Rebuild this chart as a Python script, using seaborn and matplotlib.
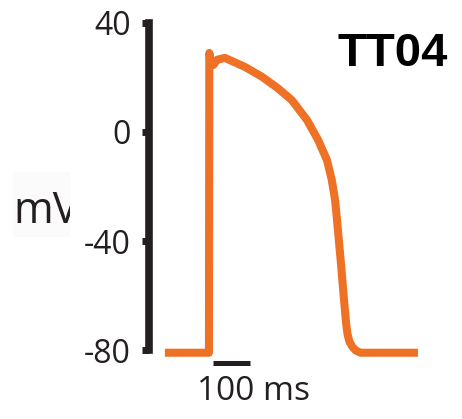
import matplotlib
matplotlib.use("Agg")
import matplotlib.pyplot as plt
import seaborn as sns
import pandas as pd
from matplotlib.patches import Rectangle

# Action potential trace (time in ms relative to upstroke, voltage in mV)
time_ms = [-119, 0, 1, 5, 12, 22, 43, 97, 143, 186, 224, 265, 295, 319, 332,
           341, 346, 351, 356, 361, 366, 371, 375, 380, 388, 397, 410, 565]
voltage_mv = [-81, -81, 29, 26, 24.6, 26.5, 27.2, 23.9, 20.3, 16.1, 11.7, 4.4,
              -2.9, -10.3, -17.6, -25.0, -32.0, -39.5, -47.0, -55.0, -63.0,
              -70.5, -74.5, -77.0, -78.9, -80.2, -81, -81]
ytick_values = [40, 0, -40, -80]
ytick_labels = ["40", "0", "-40", "-80"]
title_text = "TT04"
ylabel_text = "mV"
scalebar_ms = 100
scalebar_label = "100 ms"

sns.set_style("white")
fig = plt.figure(figsize=(4.62, 4.19), dpi=100)
ax = fig.add_axes([149 / 462, (419 - 350) / 419, 1 - 149 / 462, (350 - 23) / 419])

df = pd.DataFrame({"t": time_ms, "v": voltage_mv})
sns.lineplot(data=df, x="t", y="v", ax=ax, color="#EE7125", linewidth=5.8,
             estimator=None, sort=False)
for ln in ax.lines:
    ln.set_clip_on(False)
    ln.set_solid_capstyle("butt")
    ln.set_solid_joinstyle("round")

ax.set_xlim(-162, 684)
ax.set_ylim(-80, 40)
ax.set_xlabel("")
ax.set_ylabel("")
ax.set_xticks([])
ax.set_yticks(ytick_values)
ax.set_yticklabels(ytick_labels, fontfamily="Open Sans", fontsize=23, color="#231f20")
ax.tick_params(axis="y", direction="out", length=5, width=5, color="#231f20", pad=8, left=True)
for s in ["top", "right", "bottom"]:
    ax.spines[s].set_visible(False)
ax.spines["left"].set_linewidth(5.5)
ax.spines["left"].set_color("#231f20")
ax.spines["left"].set_capstyle("projecting")
ax.patch.set_alpha(0)

# scale bar
x0 = 11
ax.plot([x0, x0 + scalebar_ms], [-84.8, -84.8], color="#231f20", linewidth=3.6,
        solid_capstyle="butt", clip_on=False)
ax.text(120, -89.0, scalebar_label, ha="center", va="top", fontfamily="Open Sans",
        fontsize=24, color="#231f20", clip_on=False)

# title
fig.text(448 / 462, 1 - 32 / 419, title_text, ha="right", va="top",
         fontfamily="Liberation Sans", fontweight="bold", fontsize=34, color="black")

# clipped y label
box = Rectangle((13 / 462, 1 - 237 / 419), 57 / 462, 65 / 419, transform=fig.transFigure,
                facecolor="#fbfbfb", edgecolor="none")
fig.patches.append(box)
lab = fig.text(13 / 462, 1 - 223 / 419, ylabel_text, ha="left", va="baseline",
               fontfamily="Open Sans", fontsize=31, color="#231f20")
lab.set_clip_path(box)

fig.savefig("out.png", dpi=100)
